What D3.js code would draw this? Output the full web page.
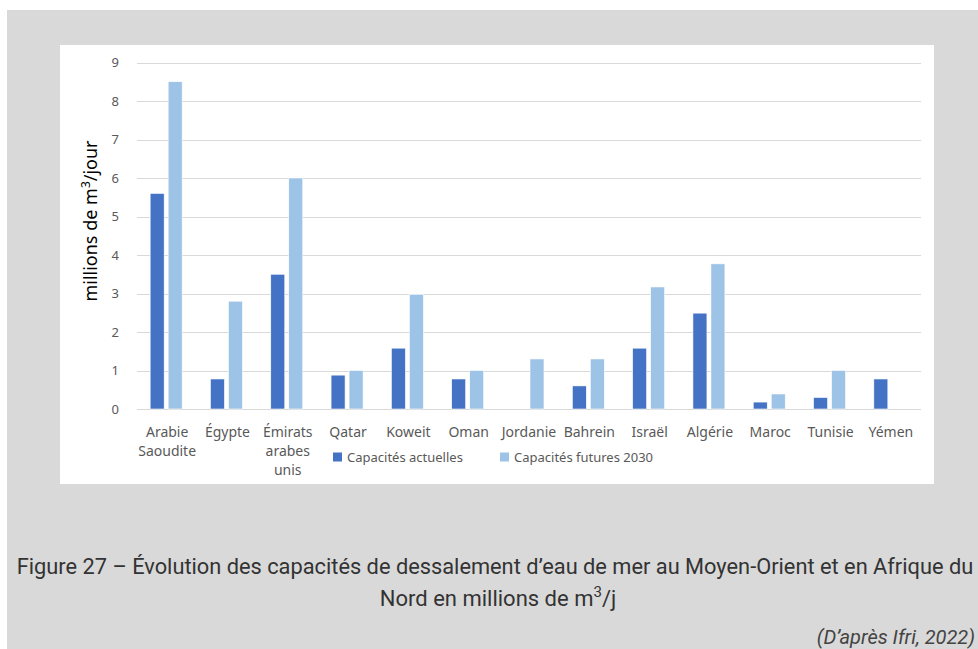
<!DOCTYPE html>
<html><head><meta charset="utf-8">
<script src="https://cdn.jsdelivr.net/npm/d3@7"></script>
<style>body{margin:0;background:#fff}svg{display:block}</style>
</head><body>
<script>
const categories = [["Arabie","Saoudite"],["Égypte"],["Émirats","arabes","unis"],["Qatar"],["Koweit"],["Oman"],["Jordanie"],["Bahrein"],["Israël"],["Algérie"],["Maroc"],["Tunisie"],["Yémen"]];
const actuelles = [5.6, 0.78, 3.5, 0.88, 1.58, 0.78, null, 0.6, 1.58, 2.49, 0.18, 0.3, 0.78];
const futures = [8.5, 2.8, 6.0, 1.0, 2.98, 1.0, 1.3, 1.3, 3.17, 3.77, 0.39, 1.0, null];
const yTicks = [0,1,2,3,4,5,6,7,8,9];
const seriesNames = ["Capacités actuelles","Capacités futures 2030"];
const colors = ["#4472C4","#9DC3E6"];

const W=978,H=649;
const svg=d3.select("body").append("svg").attr("width",W).attr("height",H);
svg.append("rect").attr("x",7).attr("y",10).attr("width",W-7).attr("height",H-10).attr("fill","#d9d9d9");
svg.append("rect").attr("x",60).attr("y",45).attr("width",874).attr("height",439).attr("fill","#fff");

const pLeft=137,pRight=921,pTop=62.5,pBottom=409;
const y=d3.scaleLinear().domain([0,9]).range([pBottom,pTop]);
const x=d3.scaleBand().domain(d3.range(categories.length)).range([pLeft,pRight]);
const x1=d3.scaleBand().domain([0,1]).range([-17,15]).paddingInner(0.222);

const font="'Noto Sans', sans-serif";
// gridlines
svg.append("g").selectAll("line").data(yTicks).join("line")
 .attr("x1",pLeft).attr("x2",pRight).attr("y1",d=>Math.round(y(d))+0.5).attr("y2",d=>Math.round(y(d))+0.5)
 .attr("stroke","#d9d9d9").attr("stroke-width",1.2);
// y tick labels
svg.append("g").selectAll("text").data(yTicks).join("text")
 .attr("x",119).attr("y",d=>y(d)).attr("dy","0.35em").attr("text-anchor","end")
 .attr("font-family",font).attr("font-size",13).attr("fill","#595959").text(d=>d);

// bars
const data=[actuelles,futures];
data.forEach((vals,si)=>{
 svg.append("g").selectAll("rect").data(vals.map((v,i)=>({v,i})).filter(d=>d.v!=null)).join("rect")
  .attr("x",d=>x(d.i)+x.bandwidth()/2+x1(si)).attr("width",x1.bandwidth())
  .attr("y",d=>y(d.v)).attr("height",d=>y(0)-y(d.v))
  .attr("fill",colors[si]).attr("stroke","#fff").attr("stroke-width",0.6);
});

// category labels
const cl=svg.append("g").selectAll("text").data(categories).join("text")
 .attr("text-anchor","middle").attr("font-family",font).attr("font-size",14).attr("fill","#595959");
cl.each(function(lines,i){
 const t=d3.select(this);
 lines.forEach((l,k)=>t.append("tspan").attr("x",x(i)+x.bandwidth()/2).attr("y",437+k*19).text(l));
});

// legend
const lg=[{x:333,tx:347},{x:500,tx:514}];
lg.forEach((p,i)=>{
 svg.append("rect").attr("x",p.x).attr("y",452.5).attr("width",9).attr("height",9).attr("fill",colors[i]);
 svg.append("text").attr("x",p.tx).attr("y",457).attr("dy","0.35em").attr("font-family",font).attr("font-size",13).attr("fill","#595959").text(seriesNames[i]);
});

// y axis title
const yt=svg.append("text").attr("transform","translate(97,221) rotate(-90)").attr("text-anchor","middle")
 .attr("font-family",font).attr("font-size",18).attr("fill","#000");
yt.append("tspan").text("millions de m");
yt.append("tspan").attr("font-size",12).attr("dy",-7).text("3");
yt.append("tspan").attr("dy",7).text("/jour");

// caption
const cf="Roboto, sans-serif";
svg.append("text").attr("x",495).attr("y",574).attr("text-anchor","middle").attr("font-family",cf).attr("font-size",21.8).attr("fill","#333")
 .text("Figure 27 – Évolution des capacités de dessalement d’eau de mer au Moyen-Orient et en Afrique du");
const c2=svg.append("text").attr("x",498).attr("y",606).attr("text-anchor","middle").attr("font-family",cf).attr("font-size",22).attr("fill","#333");
c2.append("tspan").text("Nord en millions de m");
c2.append("tspan").attr("font-size",15).attr("dy",-9).text("3");
c2.append("tspan").attr("dy",9).text("/j");
svg.append("text").attr("x",975).attr("y",644).attr("text-anchor","end").attr("font-family",cf).attr("font-size",20).attr("font-style","italic").attr("fill","#444")
 .text("(D’après Ifri, 2022)");
</script>
</body></html>
